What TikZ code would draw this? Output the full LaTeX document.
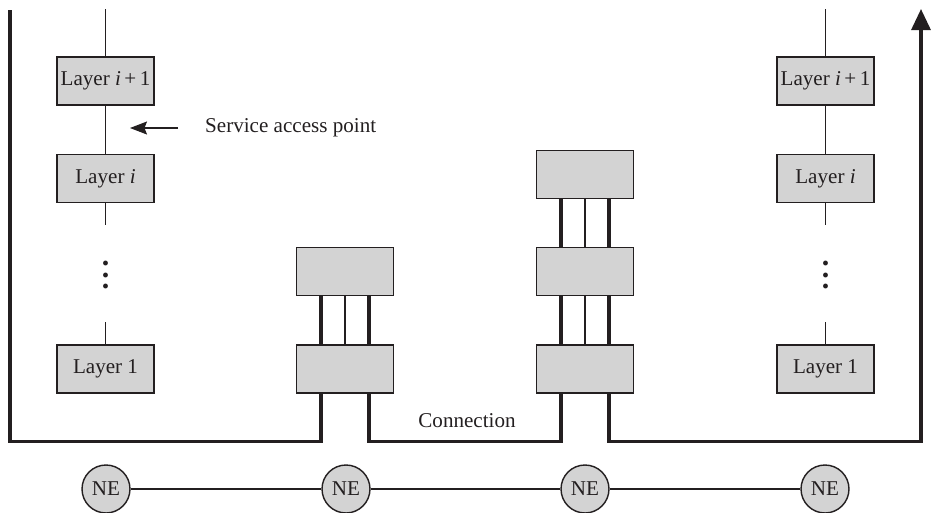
\documentclass[tikz,border=0pt]{standalone}
\usepackage{fontspec}
\setmainfont{Liberation Serif}
\usetikzlibrary{positioning, arrows.meta, calc}

\definecolor{boxgray}{HTML}{D3D3D3}
\definecolor{ink}{HTML}{231F20}

\begin{document}
\begin{tikzpicture}[
    x=0.02cm, y=-0.02cm,
    color=ink,
    font=\fontsize{12}{14}\selectfont,
    layer/.style={draw=ink, line width=0.8pt, fill=boxgray, minimum width=1.94cm, minimum height=0.96cm, inner sep=1pt},
    relay/.style={layer},
    ne/.style={draw=ink, line width=0.8pt, circle, fill=boxgray, minimum size=0.96cm, inner sep=0pt},
    dots/.style={align=center, font=\bfseries\fontsize{17}{6.3}\selectfont, inner sep=0pt},
    link/.style={line width=0.6pt},
    trunk/.style={line width=1.8pt},
    >=Stealth
]
\useasboundingbox (0,0) rectangle (931,512);

% --- end system, left ---
\node[layer] (lA2) at (105.5,81) {Layer \textit{i}\,+\,1};
\node[layer, below=0.96cm of lA2] (lA1) {Layer \textit{i}};
\node[dots] (lAd) at (105.5,275) {.\\.\\.};
\node[layer] (lA0) at (105.5,369) {Layer 1};
\coordinate (lAtop) at (105.5,9);
\coordinate (lAend) at (105.5,225);
\coordinate (lAbeg) at (105.5,322);

% --- end system, right ---
\node[layer] (lB2) at (825.5,81) {Layer \textit{i}\,+\,1};
\node[layer, below=0.96cm of lB2] (lB1) {Layer \textit{i}};
\node[dots] (lBd) at (825.5,275) {.\\.\\.};
\node[layer] (lB0) at (825.5,369) {Layer 1};
\coordinate (lBtop) at (825.5,9);
\coordinate (lBend) at (825.5,225);
\coordinate (lBbeg) at (825.5,322);

% --- intermediate systems ---
\node[relay] (rA1) at (345,369) {};
\node[relay, above=0.96cm of rA1] (rA2) {};
\node[relay] (rB1) at (585,369) {};
\node[relay, above=0.96cm of rB1] (rB2) {};
\node[relay, above=0.96cm of rB2] (rB3) {};

% --- network elements ---
\node[ne] (ne1) at (106,489) {NE};
\node[ne] (ne2) at (346,489) {NE};
\node[ne] (ne3) at (585,489) {NE};
\node[ne] (ne4) at (825,489) {NE};

% --- labels ---
\node[anchor=west] (sap) at (199,128) {Service access point};
\coordinate (sapT) at (178,128);
\coordinate (sapH) at (130,128);
\node (conn) at (467,421) {Connection};

% --- layer stacks ---
\draw[link] (lAtop) -- (lA2);
\draw[link] (lA2) -- (lA1);
\draw[link] (lA1) -- (lAend);
\draw[link] (lAbeg) -- (lA0);
\draw[link] (lBtop) -- (lB2);
\draw[link] (lB2) -- (lB1);
\draw[link] (lB1) -- (lBend);
\draw[link] (lBbeg) -- (lB0);
\draw[link, -{Stealth[length=0.34cm, width=0.26cm, inset=0.05cm]}] (sapT) -- (sapH);

% --- relay internals ---
\draw[link] (rA1) -- (rA2);
\draw[trunk] ($(rA1.north)+(-24,0)$) -- ($(rA2.south)+(-24,0)$);
\draw[trunk] ($(rA1.north)+(24,0)$) -- ($(rA2.south)+(24,0)$);
\draw[link] (rB1) -- (rB2);
\draw[link] (rB2) -- (rB3);
\draw[trunk] ($(rB1.north)+(-24,0)$) -- ($(rB2.south)+(-24,0)$);
\draw[trunk] ($(rB1.north)+(24,0)$) -- ($(rB2.south)+(24,0)$);
\draw[trunk] ($(rB2.north)+(-24,0)$) -- ($(rB3.south)+(-24,0)$);
\draw[trunk] ($(rB2.north)+(24,0)$) -- ($(rB3.south)+(24,0)$);

% --- data path ---
\coordinate (inL) at (10,10);
\coordinate (outR) at (921,9);
\draw[trunk] (inL) |- ($(rA1.south)+(-24,48)$) -- ($(rA1.south)+(-24,0)$);
\draw[trunk] ($(rA1.south)+(24,0)$) |- ($(rB1.south)+(-24,48)$) -- ($(rB1.south)+(-24,0)$);
\draw[trunk, -{Triangle[length=0.42cm, width=0.38cm]}] ($(rB1.south)+(24,0)$) -- ++(0,48) -| (outR);

% --- NE chain ---
\draw[link] (ne1) -- (ne2);
\draw[link] (ne2) -- (ne3);
\draw[link] (ne3) -- (ne4);

\end{tikzpicture}
\end{document}
